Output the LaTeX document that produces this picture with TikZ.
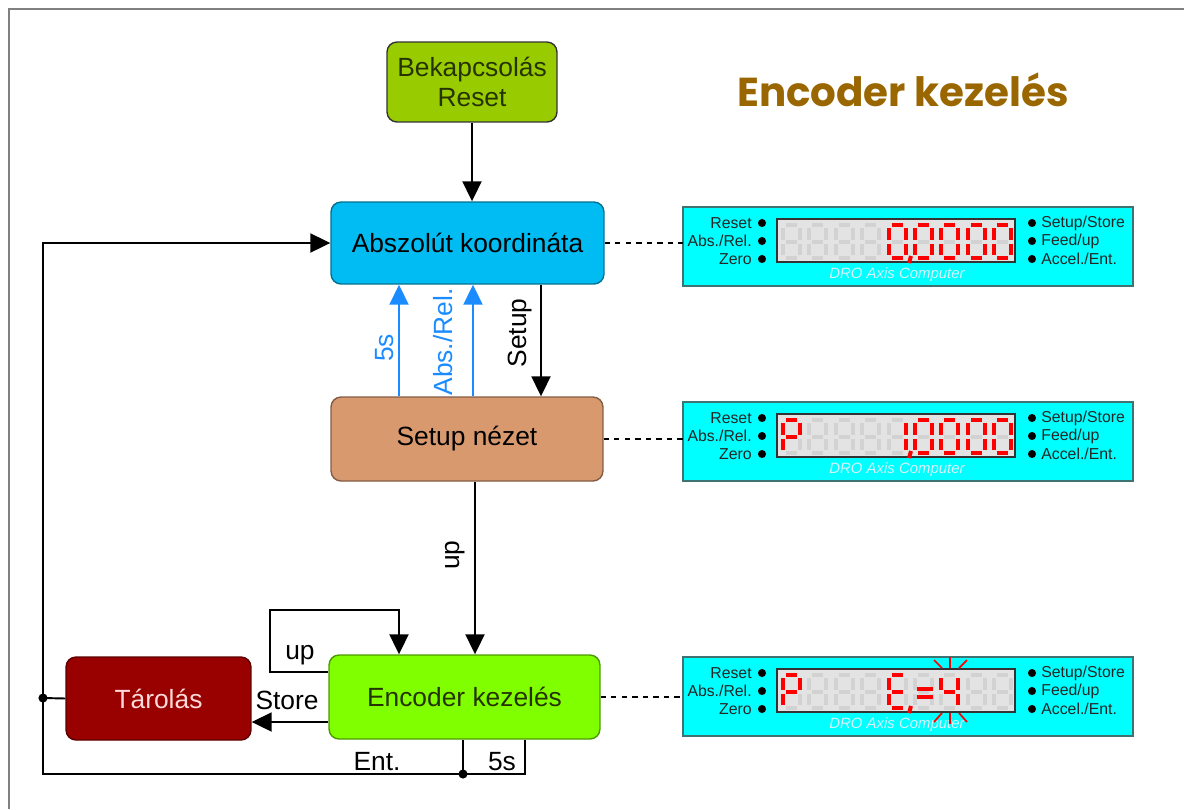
\documentclass[tikz,border=0pt]{standalone}
\usepackage{fontspec}
\setmainfont{Liberation Sans}
\newfontfamily\titlefont{Poppins}
\usetikzlibrary{arrows.meta}

\definecolor{bootgreen}{HTML}{99CC00}
\definecolor{bootink}{HTML}{263300}
\definecolor{absblue}{HTML}{00BCF2}
\definecolor{setuptan}{HTML}{D9996F}
\definecolor{encgreen}{HTML}{80FF00}
\definecolor{storered}{HTML}{990000}
\definecolor{storeink}{HTML}{FFD9D9}
\definecolor{titlebrown}{HTML}{996600}
\definecolor{arrowblue}{HTML}{1A8CFF}
\definecolor{panelcyan}{HTML}{00FFFF}
\definecolor{paneledge}{HTML}{3F7373}
\definecolor{lcdgray}{HTML}{E3E3E3}
\definecolor{ghost}{HTML}{D2D2D2}
\definecolor{lit}{HTML}{FF0000}
\definecolor{framegray}{HTML}{808080}

% the seven segments of one digit
\expandafter\def\csname lcseg a\endcsname{(3,0) -- (14,0)}
\expandafter\def\csname lcseg b\endcsname{(17,3) -- (17,14.5)}
\expandafter\def\csname lcseg c\endcsname{(17,18.5) -- (17,30)}
\expandafter\def\csname lcseg d\endcsname{(3,33) -- (14,33)}
\expandafter\def\csname lcseg e\endcsname{(0,18.5) -- (0,30)}
\expandafter\def\csname lcseg f\endcsname{(0,3) -- (0,14.5)}
\expandafter\def\csname lcseg g\endcsname{(3,16.5) -- (14,16.5)}
\newcommand{\lcdigit}[3]{%
  \begin{scope}[shift={(783+26.4*#1,225)}]
    \foreach \s in {#3}{\draw[segline,#2] \csname lcseg \s\endcsname;}
  \end{scope}}

\begin{document}
\begin{tikzpicture}[x=0.02cm,y=-0.02cm,
  every node/.style={font=\fontsize{15}{17}\selectfont},
  box/.style={draw,rounded corners=0.2cm,line width=0.8pt,align=center,inner sep=0pt},
  arr/.style={line width=1.1pt,-{Triangle[length=0.4cm,width=0.38cm]}},
  link/.style={line width=1.1pt},
  dot/.style={fill,radius=2.6pt},
  elbl/.style={inner sep=1pt},
  panelbox/.style={draw=paneledge,fill=panelcyan,line width=1.2pt},
  lcdbox/.style={draw=black!80,fill=lcdgray,line width=0.9pt},
  plbl/.style={inner sep=0pt,text=black!85,font=\fontsize{9}{10}\selectfont},
  drotxt/.style={inner sep=0pt,text=white!85!cyan,font=\fontsize{8.5}{9}\selectfont\itshape},
  segline/.style={line width=0.08cm},
  ray/.style={lit,line width=0.035cm}]

\useasboundingbox (0,0) rectangle (1184,809);
\draw[framegray,line width=1.2pt] (9,809) -- (9,9) -- (1184,9);

\node[text=titlebrown] (title) at (903,90) {\titlefont\bfseries\fontsize{23}{26}\selectfont Encoder kezelés};

% state boxes
\node[box,draw=black!80,fill=bootgreen,text=bootink,minimum width=3.4cm,minimum height=1.6cm] (boot) at (472,82) {Bekapcsolás\\Reset};
\node[box,draw=absblue!60!black,fill=absblue,minimum width=5.46cm,minimum height=1.64cm] (abs) at (467.5,243) {Abszolút koordináta};
\node[box,draw=setuptan!60!black,fill=setuptan,minimum width=5.44cm,minimum height=1.68cm] (setup) at (467,439) {Setup nézet};
\node[box,draw=encgreen!60!black,fill=encgreen,text=bootink,minimum width=5.42cm,minimum height=1.68cm] (enc) at (464.5,697) {Encoder kezelés};
\node[box,draw=storered!60!black,fill=storered,text=storeink,minimum width=3.7cm,minimum height=1.66cm] (store) at (158.5,698.5) {Tárolás};

% helper points
\coordinate (xfive) at (399,0);
\coordinate (xrel) at (473,0);
\coordinate (xset) at (541,0);
\coordinate (xup) at (475,0);
\coordinate (jl) at (43,698);
\coordinate (jb) at (463,774);
\coordinate (fivep) at (525,774);
\coordinate (st) at (0,722);
\coordinate (upin) at (0,672);
\coordinate (uptop) at (270,610);
\coordinate (updown) at (399,0);

% connectors
\draw[arr] (boot.south) -- (boot.south |- abs.north);
\draw[arr,arrowblue] (setup.north -| xfive) -- (abs.south -| xfive);
\draw[arr,arrowblue] (setup.north -| xrel) -- (abs.south -| xrel);
\draw[arr] (abs.south -| xset) -- (setup.north -| xset);
\draw[arr] (setup.south -| xup) -- (enc.north -| xup);
\draw[arr] (enc.west |- upin) -| (uptop) -| (updown |- enc.north);
\draw[arr] (enc.west |- st) -- (store.east |- st);
\draw[arr] (enc.south -| fivep) -- (fivep) -| (jl) |- (abs.west);
\draw[link] (store.west) -- (jl);
\draw[link] (enc.south -| jb) -- (jb);
\fill[dot] (jl) circle;
\fill[dot] (jb) circle;

% connector labels
\node[elbl,text=arrowblue,rotate=90] (l5s) at (385,348) {5s};
\node[elbl,text=arrowblue,rotate=90] (lrel) at (443,342) {Abs./Rel.};
\node[elbl,rotate=90] (lset) at (520,333) {Setup};
\node[elbl,rotate=90] (lup) at (455,555) {up};
\node[elbl] (lloop) at (300,655) {up};
\node[elbl] (lstore) at (287,700) {Store};
\node[elbl] (lent) at (377,762) {Ent.};
\node[elbl] (lfive) at (502,762) {5s};

% DRO panels
\foreach \dy/\pn in {0/absp,195/setp,450/encp}{
  \begin{scope}[shift={(0,\dy)}]
    \draw[panelbox] (683,207) rectangle (1133,286);
    \coordinate (\pn) at (683,246.5);
    \draw[lcdbox] (777,219) rectangle (1015,262);
    \foreach \t [count=\k] in {Reset,Abs./Rel.,Zero}{
      \node[plbl,anchor=east] (\pn l\k) at (752,205+18*\k) {\t};
      \fill (762,205+18*\k) circle[radius=2.3pt];
    }
    \foreach \t [count=\k] in {Setup/Store,Feed/up,Accel./Ent.}{
      \node[plbl,anchor=west] (\pn r\k) at (1041,205+18*\k) {\t};
      \fill (1032,205+18*\k) circle[radius=2.3pt];
    }
    \node[drotxt] (\pn dro) at (897,275) {DRO Axis Computer};
    \foreach \i in {0,...,8} \lcdigit{\i}{ghost}{a,b,c,d,e,f,g};
  \end{scope}
}
\draw[dashed,line width=0.6pt] (abs.east) -- (abs.east -| absp);
\draw[dashed,line width=0.6pt] (setup.east) -- (setup.east -| setp);
\draw[dashed,line width=0.6pt] (enc.east) -- (enc.east -| encp);

% 0,0000
\foreach \i in {4,...,8} \lcdigit{\i}{lit}{a,b,c,d,e,f};
\draw[segline,lit] (911,256) -- (909,263);

% P 1,0000
\begin{scope}[shift={(0,195)}]
  \lcdigit{0}{lit}{a,b,e,f,g}
  \lcdigit{4}{lit}{b,c}
  \foreach \i in {5,...,8} \lcdigit{\i}{lit}{a,b,c,d,e,f};
  \draw[segline,lit] (911,256) -- (909,263);
\end{scope}

% P E,=4 blinking
\begin{scope}[shift={(0,450)}]
  \lcdigit{0}{lit}{a,b,e,f,g}
  \lcdigit{4}{lit}{a,d,e,f,g}
  \draw[segline,lit] (911,256) -- (909,263);
  \draw[segline,lit] (917,239) -- (933,239);
  \draw[segline,lit] (917,247) -- (933,247);
  \lcdigit{6}{lit}{b,c,f,g}
  \draw[ray] (950,207) -- (950,218);
  \draw[ray] (934,210) -- (942,218);
  \draw[ray] (967,210) -- (959,218);
  \draw[ray] (950,263) -- (950,274);
  \draw[ray] (942,263) -- (934,272);
  \draw[ray] (959,263) -- (967,272);
\end{scope}
\end{tikzpicture}
\end{document}
